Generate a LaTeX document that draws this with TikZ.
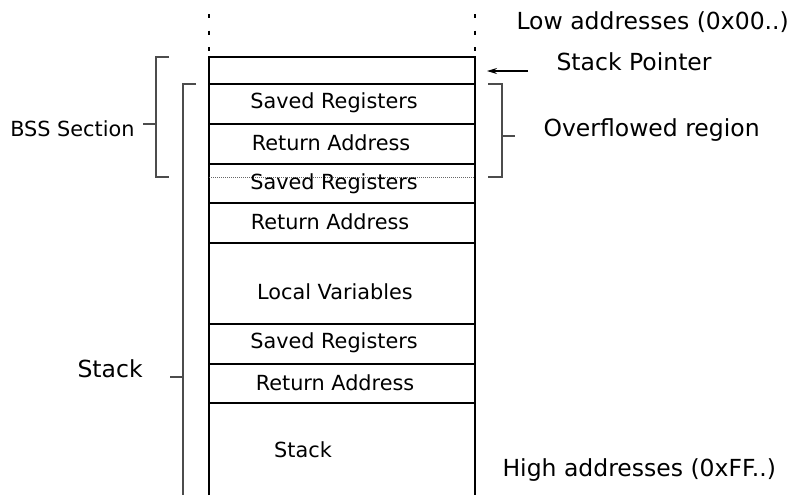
\documentclass[tikz,border=0pt]{standalone}
\usepackage{fontspec}
\setmainfont{DejaVu Sans}
\usetikzlibrary{arrows.meta}

\begin{document}
\begin{tikzpicture}[x=0.5pt,y=-0.5pt,line width=0.55pt,
    cell/.style={inner sep=0pt,font=\fontsize{10.4}{12}\selectfont},
    side/.style={inner sep=0pt,font=\fontsize{11.75}{14}\selectfont},
    brace/.style={draw=black!70}]
    \useasboundingbox (0,0) rectangle (793,495);
    % frame column
    \draw[dash pattern=on 2pt off 6.3pt] (209,14) -- (209,57);
    \draw[dash pattern=on 2pt off 6.3pt] (475,14) -- (475,57);
    \draw (209,495) -- (209,57) -- (475,57) -- (475,495);
    \draw (209,84) -- (475,84);
    \draw (209,124) -- (475,124);
    \draw (209,164) -- (475,164);
    \draw[black!60,line width=0.4pt,dash pattern=on 0.5pt off 0.5pt] (209,177) -- (475,177);
    \draw (209,203) -- (475,203);
    \draw (209,243) -- (475,243);
    \draw (209,324) -- (475,324);
    \draw (209,364) -- (475,364);
    \draw (209,403) -- (475,403);
    \node[cell] (saved1) at (334,103) {Saved Registers};
    \node[cell] (ret1) at (331,143) {Return Address};
    \node[cell] (saved2) at (334,184) {Saved Registers};
    \node[cell] (ret2) at (330,222) {Return Address};
    \node[cell] (locals) at (335,292) {Local Variables};
    \node[cell] (saved3) at (334,343) {Saved Registers};
    \node[cell] (ret3) at (335,383) {Return Address};
    \node[cell] (stackcell) at (303,450) {Stack};
    % brackets
    \draw[brace] (169,57) -- (156,57) -- (156,177) -- (169,177);
    \draw[brace] (156,124) -- (143,124);
    \node[cell,anchor=east] (bss) at (135,129) {BSS Section};
    \draw[brace] (196,84) -- (183,84) -- (183,495);
    \draw[brace] (183,377) -- (170,377);
    \node[side,anchor=west] (stacklbl) at (77,369) {Stack};
    \draw[brace] (488,84) -- (502,84) -- (502,177) -- (488,177);
    \draw[brace] (502,136) -- (515,136);
    \node[side,anchor=west] (overflow) at (543,130) {Overflowed region};
    % pointer and address labels
    \node[side,anchor=west] (sp) at (556,62) {Stack Pointer};
    \coordinate (sptail) at (528,71);
    \coordinate (sphead) at (487,71);
    \draw[-{Stealth[length=5pt,width=3pt]}] (sptail) -- (sphead);
    \node[side,anchor=west] (low) at (516,22) {Low addresses (0x00..)};
    \node[side,anchor=west] (high) at (502,470) {High addresses (0xFF..)};
\end{tikzpicture}
\end{document}
